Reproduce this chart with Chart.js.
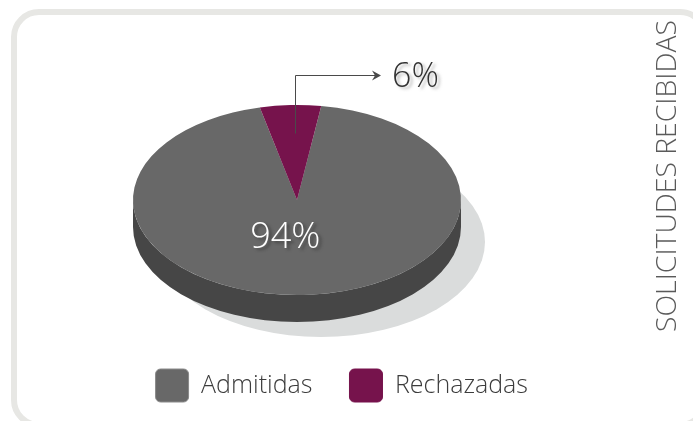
<!DOCTYPE html>
<html>
<head>
<meta charset="utf-8">
<script src="https://cdn.jsdelivr.net/npm/chart.js@4"></script>
<style>
  html, body { margin: 0; padding: 0; background: #fff; }
  #wrap { position: relative; width: 693px; height: 421px; overflow: hidden; }
  #card {
    position: absolute; left: 11px; top: 9px; width: 685px; height: 407px;
    border: 6px solid #e7e7e4; border-radius: 28px;
  }
  canvas { position: absolute; left: 0; top: 0; }
</style>
</head>
<body>
<div id="wrap">
  <div id="card"></div>
  <canvas id="pie" width="693" height="421"></canvas>
</div>
<script>
const labels = ["Admitidas", "Rechazadas"];
const values = [94, 6];
const valueLabels = ["94%", "6%"];
const title = "SOLICITUDES RECIBIDAS";

const topColors = ["#686868", "#76134c"];
const sideColors = ["#464646", "#4a0c30"];
const FONT = "'Open Sans', 'DejaVu Sans', sans-serif";

const TILT = 95 / 164;  // flattening of the pie
const DEPTH = 27;       // thickness of the disc in px

function squash(ctx, cy) {
  ctx.translate(0, cy);
  ctx.scale(1, TILT);
  ctx.translate(0, -cy);
}

const pie3d = {
  id: "pie3d",
  beforeDatasetsDraw(chart) {
    const ctx = chart.ctx;
    const arcs = chart.getDatasetMeta(0).data;
    const { x, y, outerRadius: r } = arcs[0];

    // drop shadow
    ctx.save();
    ctx.fillStyle = "#dadcdc";
    ctx.beginPath();
    ctx.ellipse(x + 24, y + DEPTH + 15, r, r * TILT, 0, 0, Math.PI * 2);
    ctx.fill();

    // side walls (front half only)
    squash(ctx, y);
    const d = DEPTH / TILT;
    arcs.forEach((arc, i) => {
      for (let k = -1; k <= 1; k++) {
        const lo = Math.max(arc.startAngle, 2 * Math.PI * k);
        const hi = Math.min(arc.endAngle, 2 * Math.PI * k + Math.PI);
        if (hi <= lo) continue;
        ctx.beginPath();
        ctx.arc(x, y, r, lo, hi);
        ctx.arc(x, y + d, r, hi, lo, true);
        ctx.closePath();
        ctx.fillStyle = sideColors[i];
        ctx.fill();
      }
    });
    ctx.restore();

    // the top face gets drawn by chart.js inside this transform
    ctx.save();
    squash(ctx, y);
  },
  afterDatasetsDraw(chart) {
    const ctx = chart.ctx;
    ctx.restore();
    const arcs = chart.getDatasetMeta(0).data;
    const { x: cx, y: cy } = arcs[0];

    // big slice: label inside
    const p = arcs[0].tooltipPosition();
    ctx.save();
    ctx.font = "300 36px " + FONT;
    ctx.textAlign = "center";
    ctx.textBaseline = "middle";
    ctx.shadowColor = "rgba(40,40,40,0.55)";
    ctx.shadowOffsetX = 3;
    ctx.shadowOffsetY = 2;
    ctx.shadowBlur = 3;
    ctx.fillStyle = "#ffffff";
    ctx.fillText(valueLabels[0], p.x - 15, cy + (p.y - cy) * TILT - 10);
    ctx.restore();

    // small slice: callout arrow
    const a = arcs[1];
    const mid = (a.startAngle + a.endAngle) / 2;
    const rr = a.outerRadius * 0.7;
    const ax = Math.round(cx + Math.cos(mid) * rr + 3);
    const ay = cy + Math.sin(mid) * rr * TILT;
    const ty = Math.round(ay - 59);
    const ex = ax + 81;
    ctx.save();
    ctx.strokeStyle = "#4a4a4a";
    ctx.lineWidth = 1;
    ctx.beginPath();
    ctx.moveTo(ax + 0.5, ay);
    ctx.lineTo(ax + 0.5, ty + 0.5);
    ctx.lineTo(ex, ty + 0.5);
    ctx.stroke();
    ctx.fillStyle = "#4a4a4a";
    ctx.beginPath();
    ctx.moveTo(ex + 5, ty + 0.5);
    ctx.lineTo(ex - 4, ty - 4.5);
    ctx.lineTo(ex - 1, ty + 0.5);
    ctx.lineTo(ex - 4, ty + 5.5);
    ctx.closePath();
    ctx.fill();
    ctx.font = "300 34px " + FONT;
    ctx.textAlign = "left";
    ctx.textBaseline = "middle";
    ctx.shadowColor = "rgba(120,120,120,0.5)";
    ctx.shadowOffsetX = 3;
    ctx.shadowOffsetY = 2;
    ctx.shadowBlur = 3;
    ctx.fillStyle = "#333333";
    ctx.fillText(valueLabels[1], ex + 16, ty + 2);
    ctx.restore();
  },
  afterDraw(chart) {
    const ctx = chart.ctx;
    ctx.save();
    let size = 28;
    ctx.font = "300 " + size + "px " + FONT;
    size = size * 312 / ctx.measureText(title).width;
    ctx.font = "300 " + size + "px " + FONT;
    ctx.translate(668, 332);
    ctx.rotate(-Math.PI / 2);
    ctx.textAlign = "left";
    ctx.textBaseline = "middle";
    ctx.fillStyle = "#5a5a5a";
    ctx.fillText(title, 0, 0);
    ctx.restore();
  }
};

new Chart(document.getElementById("pie").getContext("2d"), {
  type: "pie",
  data: {
    labels: labels,
    datasets: [{
      data: values,
      backgroundColor: topColors,
      borderWidth: 0,
      clip: false
    }]
  },
  options: {
    responsive: false,
    animation: false,
    events: [],
    rotation: 8.5,
    radius: 164,
    layout: { padding: { left: 29, right: 128, top: 68, bottom: 9 } },
    plugins: {
      tooltip: { enabled: false },
      legend: {
        position: "bottom",
        align: "end",
        maxHeight: 80,
        labels: {
          boxWidth: 33,
          boxHeight: 33,
          padding: 37,
          color: "#3c3c3c",
          font: { family: FONT, size: 25, weight: "300" },
          generateLabels: () => labels.map((t, i) => ({
            text: t,
            fillStyle: topColors[i],
            strokeStyle: i === 0 ? "#8a8a8a" : topColors[i],
            lineWidth: 1,
            borderRadius: 5,
            fontColor: "#3c3c3c",
            index: i
          }))
        }
      }
    }
  },
  plugins: [pie3d]
});
</script>
</body>
</html>
